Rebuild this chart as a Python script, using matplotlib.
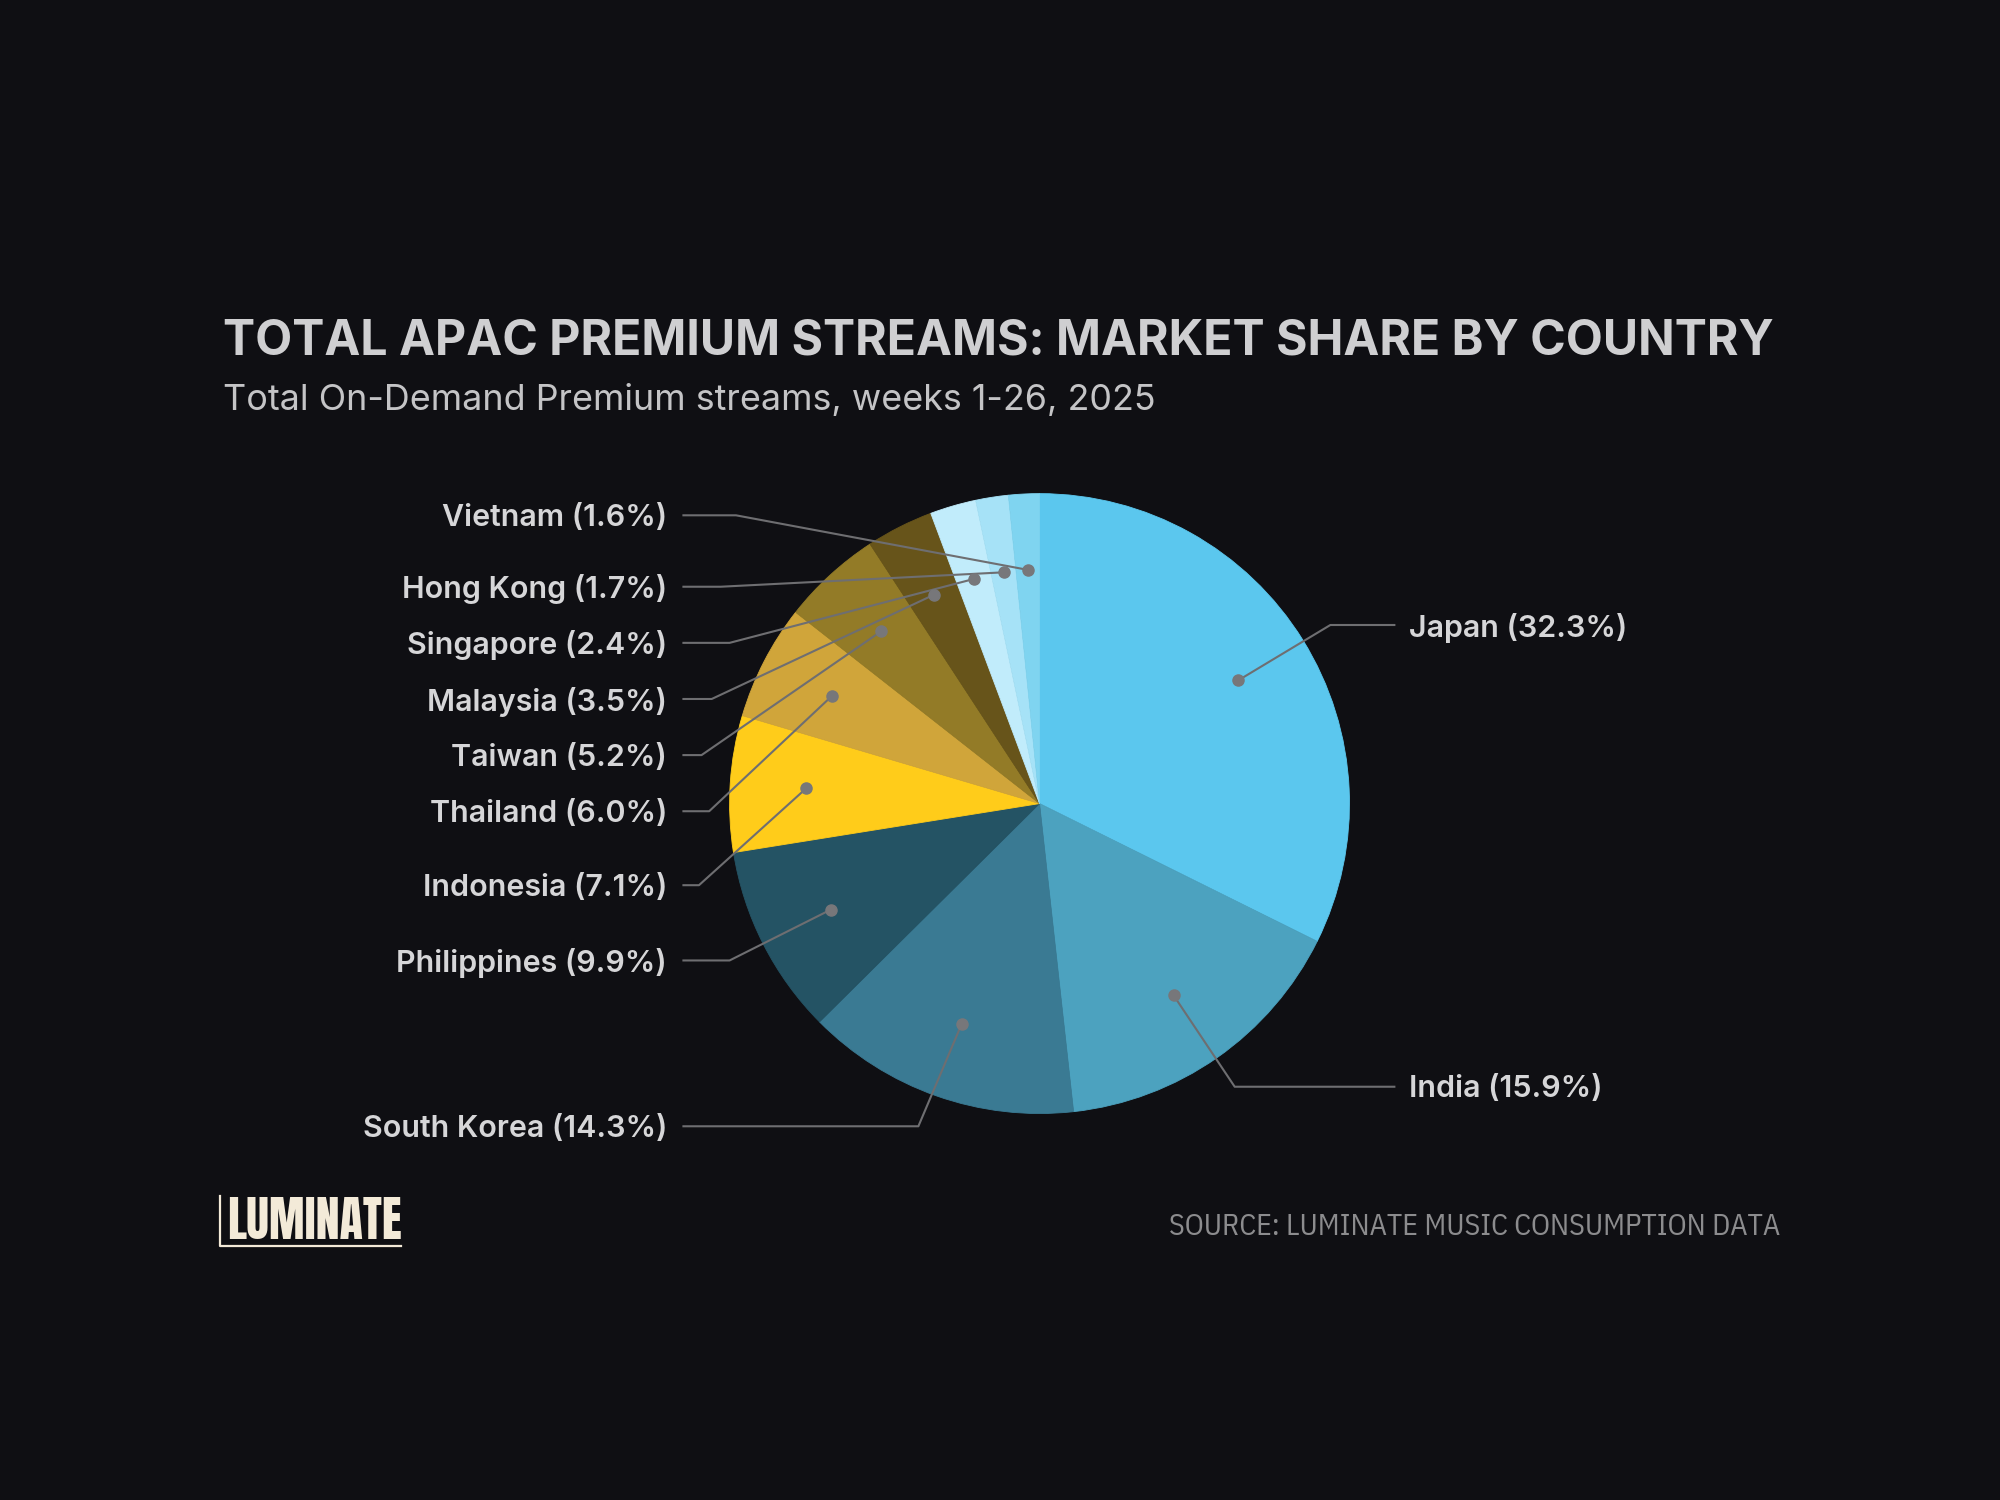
#!/usr/bin/env python

# Pie chart of APAC premium streams market share, with leader-line labels.

import numpy as np
import matplotlib
matplotlib.use("Agg")
import matplotlib.pyplot as plt

countries = ["Japan", "India", "South Korea", "Philippines", "Indonesia",
             "Thailand", "Taiwan", "Malaysia", "Singapore", "Hong Kong", "Vietnam"]
shares = [32.3, 15.9, 14.3, 9.9, 7.1, 6.0, 5.2, 3.5, 2.4, 1.7, 1.6]
colors = ["#5bc7ee", "#4ca2bf", "#3a7a93", "#245364", "#ffcc1a",
          "#d0a53a", "#937b27", "#67541a", "#c1ecfb", "#a6e2f7", "#7fd4f0"]

title = "TOTAL APAC PREMIUM STREAMS: MARKET SHARE BY COUNTRY"
subtitle = "Total On-Demand Premium streams, weeks 1-26, 2025"
source = "SOURCE: LUMINATE MUSIC CONSUMPTION DATA"

# layout (in 1568x1176 canvas units, y down)
W, H = 1568, 1176
label_y = [490, 852, 883, 753, 694, 636, 592, 548, 504, 460, 404]
elbow_x = [1043, 968, 720, 572, 548, 556, 550, 558, 572, 565, 577]
side = ["r", "r", "l", "l", "l", "l", "l", "l", "l", "l", "l"]

BG = "#0f0f13"

def fy(y):
  return H - y

fig = plt.figure(figsize=(20, 15), dpi=100, facecolor=BG)
ax = fig.add_axes([0, 0, 1, 1])
ax.set_facecolor(BG)

cx, cy, R = 815, fy(630), 243
wedges, _ = ax.pie(shares, colors=colors, startangle=90, counterclock=False,
                   center=(cx, cy), radius=R, frame=True,
                   wedgeprops=dict(linewidth=0.6))
for w in wedges:
  w.set_edgecolor(w.get_facecolor())
ax.set_xlim(0, W)
ax.set_ylim(0, H)
ax.set_aspect("equal")
ax.axis("off")

line_col = "#6e6e71"
for w, name, pct, ly, ex, sd in zip(wedges, countries, shares, label_y, elbow_x, side):
  mid = np.deg2rad((w.theta1 + w.theta2) / 2)
  dx = cx + 0.755 * R * np.cos(mid)
  dy = cy + 0.755 * R * np.sin(mid)
  if sd == "r":
    end_x, tx, ha = 1094, 1105, "left"
  else:
    end_x, tx, ha = 535, 523, "right"
  ax.plot([dx, ex, end_x], [dy, fy(ly), fy(ly)], color=line_col, lw=1.5,
          solid_capstyle="butt", zorder=3)
  ax.plot(dx, dy, "o", color="#77777a", markersize=8, zorder=4)
  ax.text(tx, fy(ly + 2), "%s (%.1f%%)" % (name, pct), ha=ha, va="center",
          color="#d6d6d8", fontsize=21.9, fontfamily="Inter", fontweight="semibold")

ax.text(175, fy(268), title, ha="left", va="center", color="#cfcfd1",
        fontsize=34.7, fontfamily="Inter", fontweight="bold")
ax.text(175, fy(314), subtitle, ha="left", va="center", color="#c4c4c6",
        fontsize=25.8, fontfamily="Inter")

# logo
ax.text(178, fy(957), "LUMINATE", ha="left", va="center", color="#f3ead8",
        fontsize=34.5, fontfamily=["Anton", "Oswald"], fontweight="bold")
ax.plot([172.5, 172.5, 314], [fy(938), fy(977), fy(977)], color="#f3ead8", lw=1.6)

ax.text(1396, fy(962), source, ha="right", va="center", color="#8c8c8e",
        fontsize=21.5, fontfamily="IBM Plex Sans Condensed")

fig.savefig("out.png", dpi=100, facecolor=BG)
